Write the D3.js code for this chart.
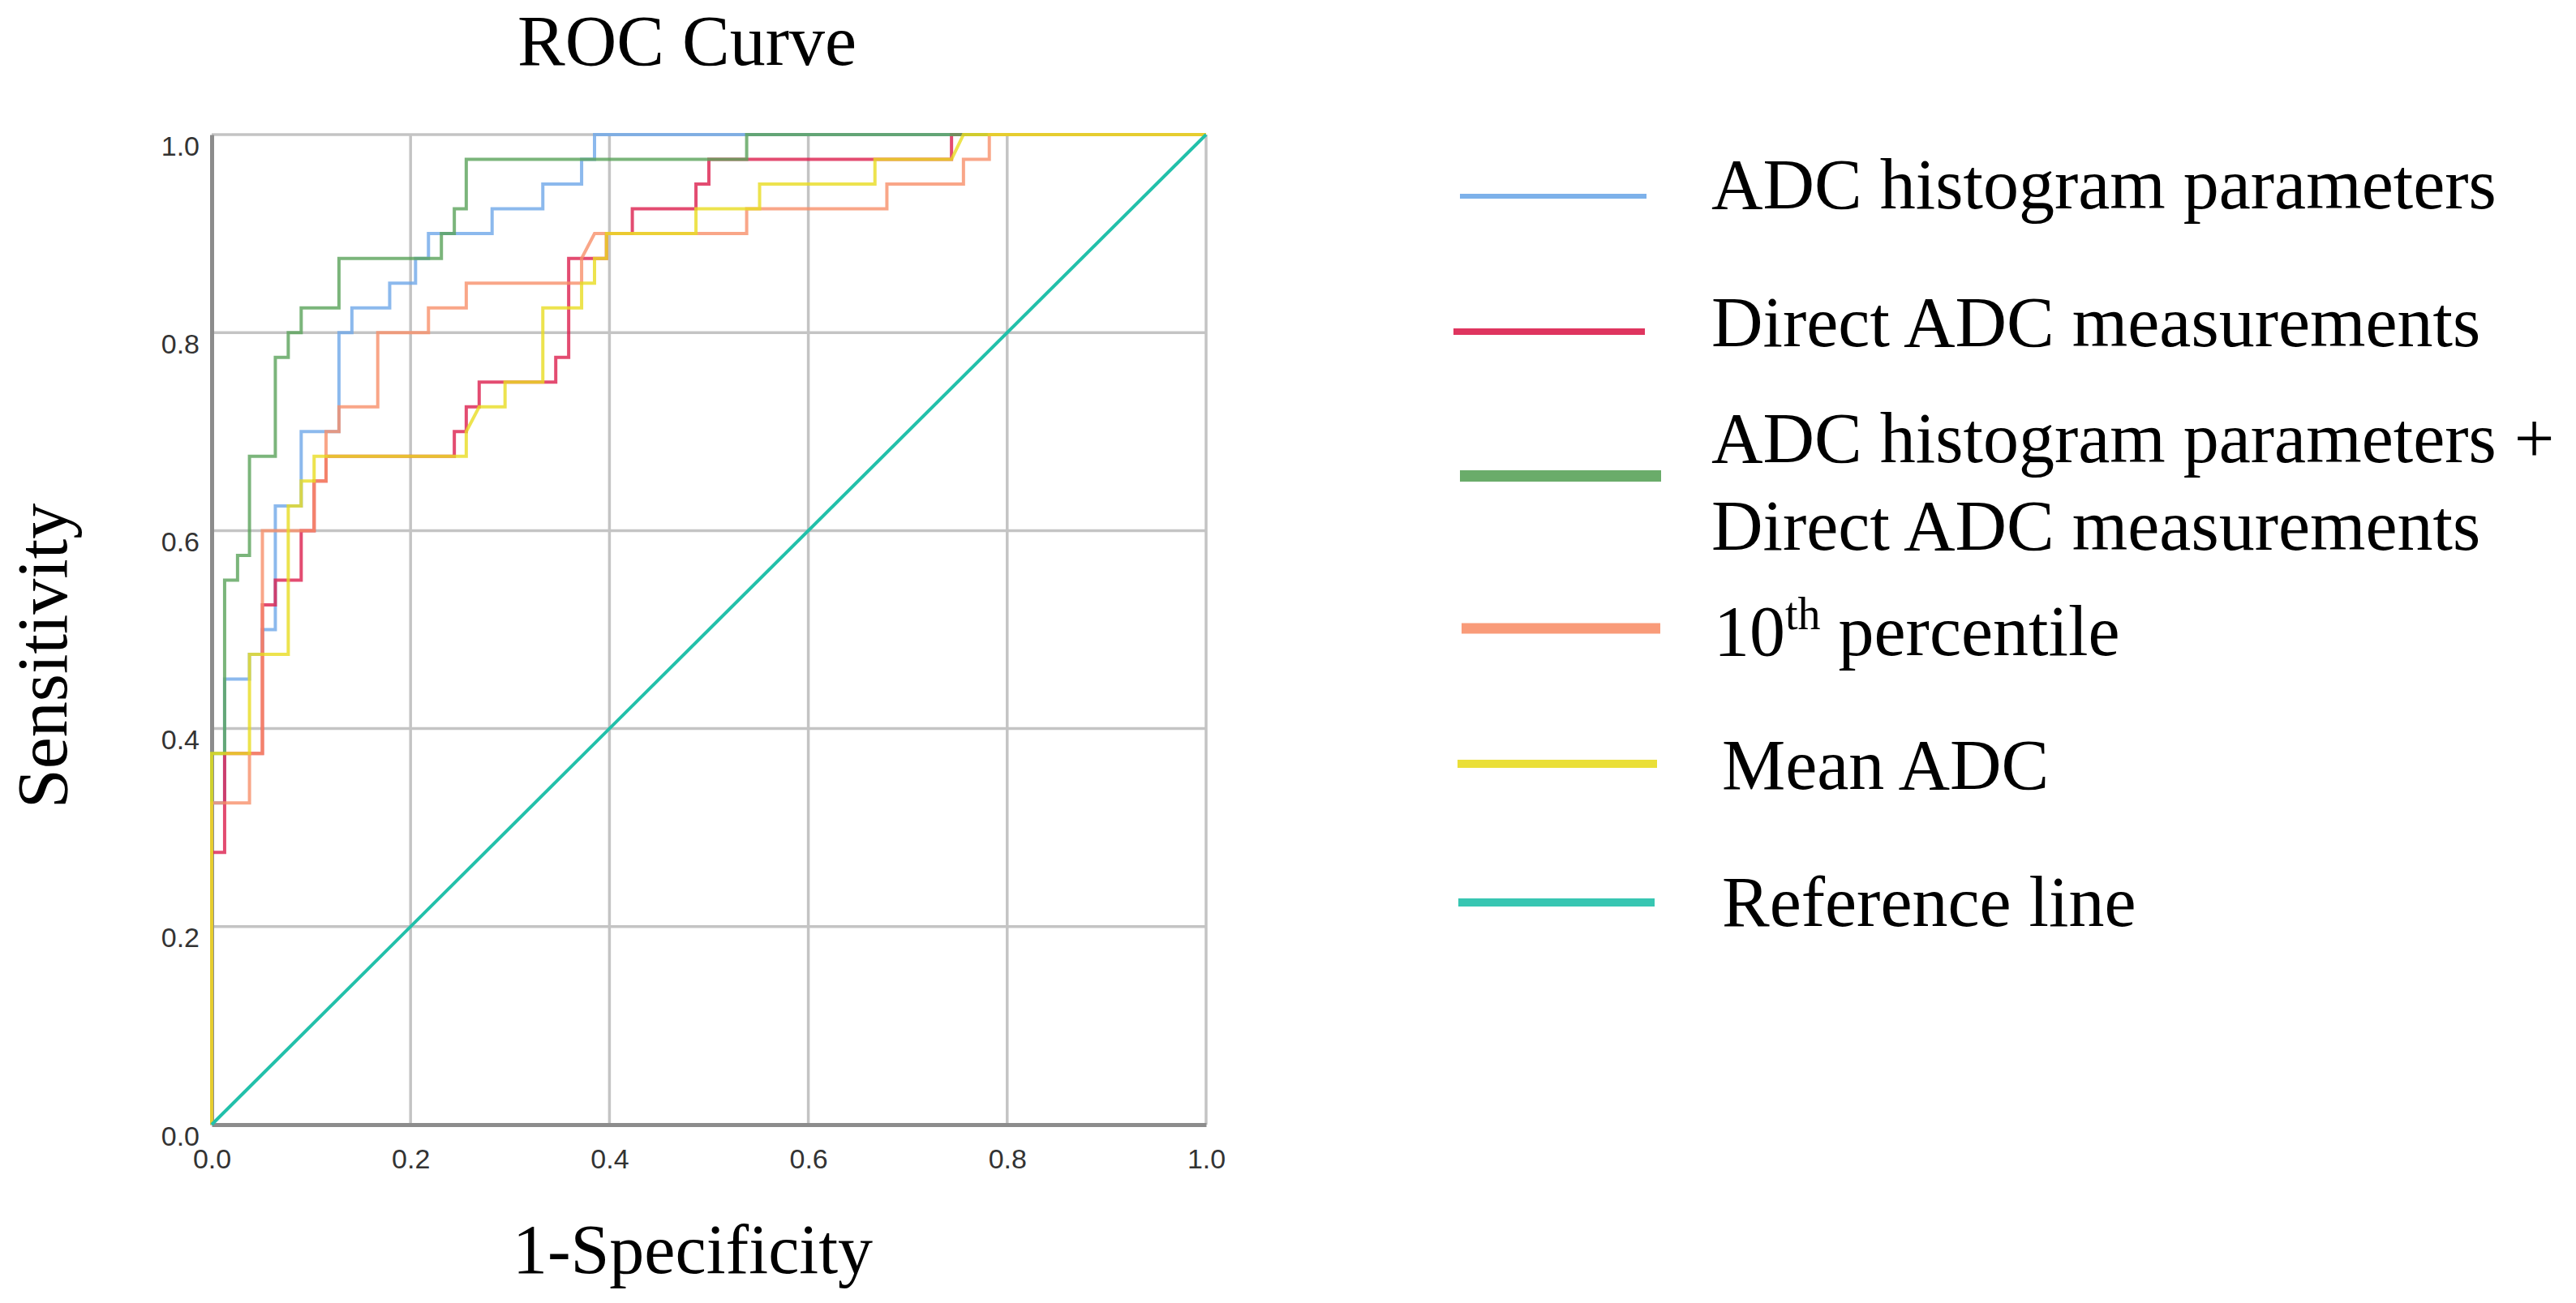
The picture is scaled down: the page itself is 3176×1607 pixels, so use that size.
<!DOCTYPE html>
<html>
<head>
<meta charset="utf-8">
<script src="https://cdn.jsdelivr.net/npm/d3@7"></script>
<style>
  html, body { margin: 0; padding: 0; background: #ffffff; }
  svg { display: block; }
</style>
</head>
<body>
<script>
// ---------------- DATA ----------------
const seriesNames = [
  "ADC histogram parameters",
  "Direct ADC measurements",
  "ADC histogram parameters + Direct ADC measurements",
  "10th percentile",
  "Mean ADC",
  "Reference line"
];

const xTickValues = [0, 0.2, 0.4, 0.6, 0.8, 1.0];
const yTickValues = [0, 0.2, 0.4, 0.6, 0.8, 1.0];

// ADC histogram parameters
const histFpr = [0,0,0.013,0.013,0.038,0.038,0.051,0.051,0.064,0.064,0.090,0.090,0.128,0.128,0.141,0.141,0.179,0.179,0.205,0.205,0.218,0.218,0.282,0.282,0.333,0.333,0.372,0.372,0.385,0.385,1];
const histTpr = [0,0.325,0.325,0.45,0.45,0.475,0.475,0.5,0.5,0.625,0.625,0.7,0.7,0.8,0.8,0.825,0.825,0.85,0.85,0.875,0.875,0.9,0.9,0.925,0.925,0.95,0.95,0.975,0.975,1,1];

// Direct ADC measurements
const directFpr = [0,0,0.013,0.013,0.051,0.051,0.064,0.064,0.090,0.090,0.103,0.103,0.115,0.115,0.244,0.244,0.256,0.256,0.269,0.269,0.346,0.346,0.359,0.359,0.397,0.397,0.423,0.423,0.487,0.487,0.500,0.500,0.744,0.744,1];
const directTpr = [0,0.275,0.275,0.375,0.375,0.525,0.525,0.55,0.55,0.6,0.6,0.65,0.65,0.675,0.675,0.7,0.7,0.725,0.725,0.75,0.75,0.775,0.775,0.875,0.875,0.9,0.9,0.925,0.925,0.95,0.95,0.975,0.975,1,1];

// ADC histogram parameters + Direct ADC measurements
const combFpr = [0,0,0.013,0.013,0.026,0.026,0.038,0.038,0.064,0.064,0.077,0.077,0.090,0.090,0.128,0.128,0.231,0.231,0.244,0.244,0.256,0.256,0.538,0.538,1];
const combTpr = [0,0.375,0.375,0.55,0.55,0.575,0.575,0.675,0.675,0.775,0.775,0.8,0.8,0.825,0.825,0.875,0.875,0.9,0.9,0.925,0.925,0.975,0.975,1,1];

// 10th percentile
const p10Fpr = [0,0,0.038,0.038,0.051,0.051,0.103,0.103,0.115,0.115,0.128,0.128,0.167,0.167,0.218,0.218,0.256,0.256,0.372,0.372,0.385,0.538,0.538,0.679,0.679,0.756,0.756,0.782,0.782,1];
const p10Tpr = [0,0.325,0.325,0.375,0.375,0.6,0.6,0.65,0.65,0.7,0.7,0.725,0.725,0.8,0.8,0.825,0.825,0.85,0.85,0.875,0.9,0.9,0.925,0.925,0.95,0.95,0.975,0.975,1,1];

// Mean ADC
const meanFpr = [0,0,0.038,0.038,0.077,0.077,0.090,0.090,0.103,0.103,0.256,0.256,0.269,0.295,0.295,0.333,0.333,0.372,0.372,0.385,0.385,0.397,0.397,0.487,0.487,0.551,0.551,0.667,0.667,0.744,0.756,1];
const meanTpr = [0,0.375,0.375,0.475,0.475,0.625,0.625,0.65,0.65,0.675,0.675,0.7,0.725,0.725,0.75,0.75,0.825,0.825,0.85,0.85,0.875,0.875,0.9,0.9,0.925,0.925,0.95,0.95,0.975,0.975,1,1];

// Reference line
const refFpr = [0, 1];
const refTpr = [0, 1];

// ---------------- STYLE / LAYOUT ----------------
const W = 3176, H = 1607;
const colors = ["#6fa8e8", "#dc1f4e", "#5aa35a", "#f8906a", "#e8dc22", "#22c0aa"];
const serif = "'Liberation Serif', 'Times New Roman', serif";
const sans = "'Liberation Sans', Arial, sans-serif";

const svg = d3.select("body").append("svg")
  .attr("width", W).attr("height", H)
  .attr("viewBox", `0 0 ${W} ${H}`);
svg.append("rect").attr("width", W).attr("height", H).attr("fill", "#ffffff");

const x = d3.scaleLinear().domain([0, 1]).range([261, 1487]);
const y = d3.scaleLinear().domain([0, 1]).range([1387, 166]);

// grid
const grid = svg.append("g");
grid.selectAll("line.v").data(xTickValues.filter(d => d > 0)).join("line")
  .attr("x1", d => x(d)).attr("x2", d => x(d))
  .attr("y1", y(0)).attr("y2", y(1))
  .attr("stroke", "#c4c4c4").attr("stroke-width", 3.5);
grid.selectAll("line.h").data(yTickValues.filter(d => d > 0)).join("line")
  .attr("x1", x(0)).attr("x2", x(1))
  .attr("y1", d => y(d)).attr("y2", d => y(d))
  .attr("stroke", "#c4c4c4").attr("stroke-width", 3.5);

// axes
const xAxis = d3.axisBottom(x).tickValues(xTickValues).tickFormat(d3.format(".1f")).tickSize(0).tickPadding(30);
const yAxis = d3.axisLeft(y).tickValues(yTickValues).tickFormat(d3.format(".1f")).tickSize(0).tickPadding(15);

const gx = svg.append("g").attr("transform", `translate(0,${y(0)})`).call(xAxis);
const gy = svg.append("g").attr("transform", `translate(${x(0)},0)`).call(yAxis);
[gx, gy].forEach(g => {
  g.select(".domain").attr("stroke", "#8c8c8c").attr("stroke-width", 5);
  g.selectAll("text").attr("font-family", sans).attr("font-size", 34).attr("fill", "#333333");
});
gy.selectAll("text").attr("dy", "0.74em");
gx.selectAll("text").attr("dy", "0.72em");

// curves
const line = d3.line().x(d => x(d[0])).y(d => y(d[1]));
const curves = [
  [histFpr, histTpr],
  [directFpr, directTpr],
  [combFpr, combTpr],
  [p10Fpr, p10Tpr],
  [meanFpr, meanTpr]
];
const plot = svg.append("g");
curves.forEach((c, i) => {
  const pts = c[0].map((f, j) => [f, c[1][j]]);
  plot.append("path").datum(pts)
    .attr("d", line)
    .attr("fill", "none")
    .attr("stroke", colors[i])
    .attr("stroke-width", 4)
    .attr("stroke-opacity", 0.8)
    .attr("stroke-linejoin", "miter");
});
plot.append("path").datum(refFpr.map((f, j) => [f, refTpr[j]]))
  .attr("d", line).attr("fill", "none")
  .attr("stroke", colors[5]).attr("stroke-width", 4);

// titles
svg.append("text").attr("x", 847).attr("y", 80)
  .attr("text-anchor", "middle").attr("font-family", serif).attr("font-size", 88)
  .attr("fill", "#000").text("ROC Curve");
svg.append("text").attr("x", 854).attr("y", 1570)
  .attr("text-anchor", "middle").attr("font-family", serif).attr("font-size", 86)
  .attr("fill", "#000").text("1-Specificity");
svg.append("text").attr("transform", "translate(82,809) rotate(-90)")
  .attr("text-anchor", "middle").attr("font-family", serif).attr("font-size", 88)
  .attr("fill", "#000").text("Sensitivity");

// legend
const legendLayout = [
  { ly: 242, x1: 1800, x2: 2030, w: 6,  tx: 2110, lines: [[257, seriesNames[0]]] },
  { ly: 409, x1: 1792, x2: 2028, w: 8,  tx: 2110, lines: [[427, seriesNames[1]]] },
  { ly: 587, x1: 1800, x2: 2048, w: 14, tx: 2110, lines: [[570, "ADC histogram parameters +"], [678, "Direct ADC measurements"]] },
  { ly: 775, x1: 1802, x2: 2047, w: 13, tx: 2113, lines: [[808, null]] },
  { ly: 942, x1: 1797, x2: 2043, w: 10, tx: 2123, lines: [[973, seriesNames[4]]] },
  { ly: 1113, x1: 1798, x2: 2040, w: 10, tx: 2123, lines: [[1142, seriesNames[5]]] }
];
const leg = svg.append("g");
legendLayout.forEach((L, i) => {
  leg.append("line").attr("x1", L.x1).attr("x2", L.x2).attr("y1", L.ly).attr("y2", L.ly)
    .attr("stroke", colors[i]).attr("stroke-width", L.w).attr("stroke-opacity", 0.9);
  L.lines.forEach(([by, txt]) => {
    const t = leg.append("text").attr("x", L.tx).attr("y", by)
      .attr("font-family", serif).attr("font-size", 88).attr("fill", "#000");
    if (txt === null) {
      t.append("tspan").text("10");
      t.append("tspan").attr("font-size", 56).attr("dy", -32).text("th");
      t.append("tspan").attr("dy", 32).text(" percentile");
    } else {
      t.text(txt);
    }
  });
});
</script>
</body>
</html>
